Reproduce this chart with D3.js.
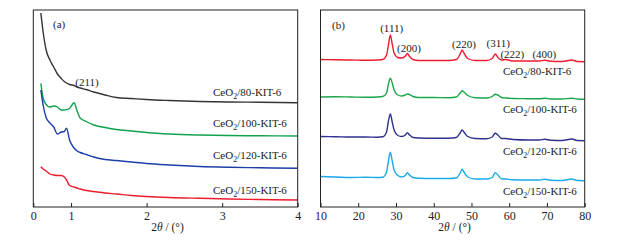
<!DOCTYPE html>
<html>
<head>
<meta charset="utf-8">
<script src="https://cdn.jsdelivr.net/npm/d3@7"></script>
<style>
    body { margin: 0; background: #fff; }
    svg text { font-family: "Liberation Serif", "Times New Roman", serif; fill: #222; }
</style>
</head>
<body>
<svg id="chart" width="620" height="245"></svg>
<script>
// panel (a): small-angle XRD, stacked curves (a.u.)
const angleA = [0.6, 0.63, 0.67, 0.72, 0.77, 0.82, 0.87, 0.91, 0.94, 0.98, 1.04, 1.08, 1.12, 1.2, 1.3, 1.45, 1.6, 1.8, 2.0, 2.3, 2.7, 3.1, 3.5, 4.0];
const kit80A  = [194, 175, 157, 147, 140, 133, 128.5, 125.5, 124, 122.5, 121.5, 120, 119, 117.5, 115, 112, 109.5, 108.5, 107.5, 106.5, 105.5, 105, 104.7, 104.3];
const kit100A = [123.7, 109, 102.5, 100, 101, 100, 97, 97, 97.5, 98.5, 104.3, 96, 89, 85.5, 82, 79.5, 77.5, 76, 74.5, 73, 72, 71.5, 71.2, 71];
const kit120A = [117, 102, 89.5, 84, 80, 73, 75, 75.5, 78.7, 67, 59, 56, 54.5, 52.5, 50, 47.5, 46.5, 45, 43.5, 42, 40.5, 39.7, 39.2, 38.7];
const kit150A = [40.3, 38, 36, 33, 32, 31.5, 31.5, 30, 27, 21.5, 20, 19, 18, 16.5, 15.5, 14, 13, 11.5, 10.5, 9.5, 8.7, 8, 7.5, 7];
const tickValsA = [0.5, 1, 2, 3, 4];
const tickTextA = ["0", "1", "2", "3", "4"];

// panel (b): wide-angle XRD, stacked curves (a.u.)
const angleB = [10, 14, 18, 22, 25, 26.5, 27.5, 28, 28.5, 29, 29.5, 30.5, 31.5, 32.5, 33, 33.6, 34.5, 36, 40, 44, 46, 47, 47.5, 48, 49, 51, 54, 55.5, 56.3, 57, 58, 59, 61, 65, 68, 69.4, 71, 74, 76.6, 78, 80];
const kit80B  = [147.5, 147.2, 147, 146.7, 147, 147.5, 152, 162, 172, 163, 154, 149.5, 149, 151, 153.5, 150.5, 147.5, 146.5, 146.5, 146.5, 147.5, 153, 157, 154, 148.5, 146.5, 146.5, 148.5, 153, 149.5, 147, 147.5, 146, 146, 146, 146.7, 145.8, 145.5, 147, 145.5, 145.3];
const kit100B = [110, 110.2, 110, 109.8, 110, 110.5, 114, 123, 128.7, 124, 117, 112, 111, 112, 113, 112.5, 110.5, 109.5, 109.5, 109.3, 110, 114, 116.3, 115, 111.5, 109.3, 109, 110.5, 112.7, 112, 109.5, 109, 108.5, 108.3, 108.2, 108.8, 108, 108, 108.8, 108, 107.7];
const kit120B = [70.5, 70.3, 70, 70, 69.8, 70.2, 75, 86, 93, 85, 77, 71.5, 70.5, 72, 74.3, 72, 69.5, 69, 68.8, 68.8, 69.5, 74, 77, 75, 70.5, 68.5, 68.3, 70, 73.7, 72, 68.5, 68.5, 67.5, 67, 67, 67.8, 66.8, 66.5, 68, 66.5, 66.3];
const kit150B = [30.5, 30, 29.5, 29.7, 29.5, 29.8, 35, 46, 54.7, 46, 37, 31.5, 30, 31.5, 34.3, 32, 29.5, 28.8, 28.5, 28.5, 29, 34, 37.7, 35, 30, 28, 28, 29.5, 34.3, 32, 28.2, 28, 27.3, 27, 27, 27.8, 26.8, 26.5, 28, 26.5, 26.3];
const tickValsB = [10, 20, 30, 40, 50, 60, 70, 80];

const sampleNames = ["80", "100", "120", "150"];
const peaksB = ["(111)", "(200)", "(220)", "(311)", "(222)", "(400)"];

const svg = d3.select("#chart");

function drawPanel(opt) {
    const x = d3.scaleLinear().domain(opt.xDomain).range([opt.left, opt.right]);
    const y = d3.scaleLinear().domain([0, 197]).range([207, 10]);

    const g = svg.append("g");

    // curves
    const line = d3.line()
        .x((d, i) => x(opt.angles[i]))
        .y(d => y(d))
        .curve(d3.curveMonotoneX);
    opt.series.forEach((s, i) => {
        g.append("path")
            .attr("fill", "none")
            .attr("stroke", opt.colors[i])
            .attr("stroke-width", 1.4)
            .attr("stroke-linejoin", "round")
            .attr("d", line(s));
    });

    // frame
    g.append("rect")
        .attr("x", opt.left)
        .attr("y", 10)
        .attr("width", opt.right - opt.left)
        .attr("height", 197)
        .attr("fill", "none")
        .attr("stroke", "#222")
        .attr("stroke-width", 1);

    // bottom axis, ticks pointing inwards
    const axis = g.append("g")
        .attr("transform", "translate(0,207)")
        .call(d3.axisBottom(x)
            .tickValues(opt.tickVals)
            .tickSize(-4)
            .tickPadding(4)
            .tickFormat((d, i) => opt.tickText ? opt.tickText[i] : d));
    axis.select(".domain").remove();
    axis.selectAll(".tick line").attr("stroke", "#222");
    axis.selectAll(".tick text")
        .attr("fill", "#222")
        .style("font-family", "Liberation Serif, serif")
        .style("font-size", "12px");

    // axis title
    const title = g.append("text")
        .attr("x", (opt.left + opt.right) / 2 + 2)
        .attr("y", 231)
        .attr("text-anchor", "middle")
        .style("font-size", "11.5px");
    title.append("tspan").text("2");
    title.append("tspan").attr("font-style", "italic").text("θ");
    title.append("tspan").text(" / (°)");

    // panel tag
    g.append("text")
        .attr("x", opt.tagX)
        .attr("y", opt.tagY)
        .style("font-size", "11px")
        .text(opt.tag);

    // sample labels
    sampleNames.forEach((n, i) => {
        const t = g.append("text")
            .attr("x", opt.labelX)
            .attr("y", opt.labelY[i])
            .style("font-size", "11px");
        t.append("tspan").text("CeO");
        t.append("tspan").attr("dy", 3).style("font-size", "8px").text("2");
        t.append("tspan").attr("dy", -3).text("/" + n + "-KIT-6");
    });

    return { x, y, g };
}

const panelA = drawPanel({
    left: 33.3, right: 297.7,
    xDomain: [0.5, 4],
    angles: angleA,
    series: [kit80A, kit100A, kit120A, kit150A],
    colors: ["#353535", "#12a14f", "#1c3ea6", "#ec1c2c"],
    tickVals: tickValsA,
    tickText: tickTextA,
    tag: "(a)", tagX: 53, tagY: 28,
    labelX: 213,
    labelY: [95.5, 126.5, 159, 194]
});

panelA.g.append("text")
    .attr("x", 87)
    .attr("y", 86)
    .attr("text-anchor", "middle")
    .style("font-size", "11px")
    .text("(211)");

const panelB = drawPanel({
    left: 320.5, right: 584.7,
    xDomain: [10, 80],
    angles: angleB,
    series: [kit80B, kit100B, kit120B, kit150B],
    colors: ["#ef1b30", "#1aa64a", "#2d3190", "#19aaea"],
    tickVals: tickValsB,
    tickText: null,
    tag: "(b)", tagX: 332, tagY: 29,
    labelX: 503,
    labelY: [75, 113, 154.5, 194.5]
});

// reflection labels in panel (b)
const peakPos = [[391.7, 32], [409, 52], [464, 48], [498.3, 46.5], [512.3, 58], [544.3, 58]];
peaksB.forEach((p, i) => {
    panelB.g.append("text")
        .attr("x", peakPos[i][0])
        .attr("y", peakPos[i][1])
        .attr("text-anchor", "middle")
        .style("font-size", "11px")
        .text(p);
});
</script>
</body>
</html>
